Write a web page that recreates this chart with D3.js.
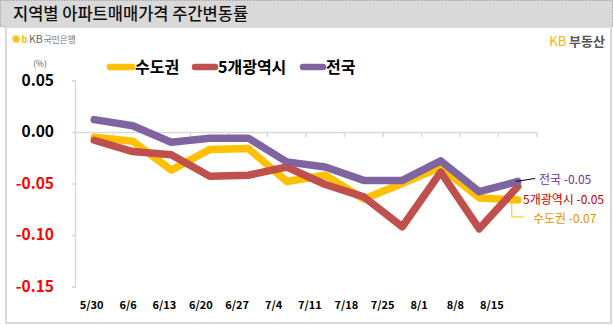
<!DOCTYPE html>
<html>
<head>
<meta charset="utf-8">
<script src="https://d3js.org/d3.v7.min.js"></script>
<style>
  html, body { margin: 0; padding: 0; background: #fff; }
  svg { display: block; }
  text { font-family: "Noto Sans CJK KR", "Noto Sans", sans-serif; }
</style>
</head>
<body>
<svg id="chart" width="613" height="325"></svg>
<script>
// Weekly apartment sale price change by region (%)
const weeks = ["5/30", "6/6", "6/13", "6/20", "6/27", "7/4", "7/11", "7/18", "7/25", "8/1", "8/8", "8/15"];
const capitalArea = [-0.005, -0.009, -0.037, -0.017, -0.016, -0.048, -0.042, -0.065, -0.050, -0.034, -0.064, -0.066];
const metroCities = [-0.008, -0.019, -0.022, -0.043, -0.042, -0.034, -0.051, -0.063, -0.092, -0.039, -0.094, -0.053];
const nationwide  = [0.012, 0.006, -0.010, -0.006, -0.006, -0.029, -0.034, -0.047, -0.047, -0.028, -0.058, -0.048];
const yTicks = [0.05, 0.00, -0.05, -0.10, -0.15];

const series = [
  { name: "수도권",   values: capitalArea, color: "#FFC000", labelColor: "#E69500", labelValue: -0.07 },
  { name: "5개광역시", values: metroCities, color: "#C0504D", labelColor: "#C00000", labelValue: -0.05 },
  { name: "전국",     values: nationwide,  color: "#8064A2", labelColor: "#7030A0", labelValue: -0.05 }
];

// two decimals with a plain hyphen for negatives
const fmt = v => d3.format(".2f")(v).replace("\u2212", "-");

const svg = d3.select("#chart");

// Title bar
svg.append("rect").attr("x", 0.5).attr("y", 0.5).attr("width", 612).attr("height", 26)
  .attr("fill", "#d9d9d9").attr("stroke", "#a6a6a6").attr("stroke-dasharray", "2,1");
svg.append("text").attr("x", 13).attr("y", 20).text("지역별 아파트매매가격 주간변동률")
  .attr("font-size", 16.5).attr("font-weight", 500).attr("fill", "#111");

// Chart frame
svg.append("rect").attr("x", 6).attr("y", 27).attr("width", 605).attr("height", 296)
  .attr("fill", "#fff").attr("stroke", "#d9d9d9").attr("stroke-width", 2);

// Bank logo (top left)
const logo = svg.append("g").attr("transform", "translate(12,39)");
logo.append("g").attr("stroke", "#FFB900").attr("stroke-width", 1.5).selectAll("line")
  .data([[-4, 0, 4, 0], [0, -4, 0, 4], [-3, -3, 3, 3], [-3, 3, 3, -3]]).join("line")
  .attr("x1", d => d[0] + 4).attr("y1", d => d[1]).attr("x2", d => d[2] + 4).attr("y2", d => d[3]);
logo.append("text").attr("x", 9.5).attr("y", 4).text("b").attr("font-size", 9).attr("fill", "#FFB900").attr("font-weight", 700);
logo.append("text").attr("x", 17).attr("y", 4).text("KB").attr("font-size", 10.5).attr("fill", "#666");
logo.append("text").attr("x", 31.5).attr("y", 3.5).text("국민은행").attr("font-size", 9).attr("fill", "#777").attr("letter-spacing", -0.3);

// Real-estate brand (top right)
const brand = svg.append("text").attr("x", 605).attr("y", 46).attr("text-anchor", "end").attr("font-size", 13).attr("font-weight", 700);
brand.append("tspan").text("KB ").attr("fill", "#FFB000").attr("font-weight", 400);
brand.append("tspan").text("부동산").attr("fill", "#555");

// Scales
const x = d3.scaleBand().domain(weeks).range([75, 537]);
const xLabel = d3.scaleBand().domain(weeks).range([73.5, 510]);
const y = d3.scaleLinear().domain([-0.15, 0.05]).range([286.5, 80.5]);

// Y axis
const yAxis = svg.append("g").attr("transform", "translate(75,0)")
  .call(d3.axisLeft(y).tickValues(yTicks).tickSize(3).tickFormat(fmt));
yAxis.select(".domain").attr("stroke", "#d9d9d9").attr("stroke-width", 1.5);
yAxis.selectAll(".tick line").attr("stroke", "#d9d9d9").attr("stroke-width", 1.5);
yAxis.selectAll(".tick text")
  .attr("x", -21).attr("font-size", 15.5).attr("font-weight", 700)
  .attr("font-family", "'Liberation Sans', Arial, sans-serif")
  .attr("fill", d => d < 0 ? "#FF0000" : "#000");
svg.append("text").attr("x", 40).attr("y", 67).attr("text-anchor", "middle")
  .text("(%)").attr("font-size", 8.5).attr("fill", "#4a5a7a");

// Zero baseline with category ticks
const zeroAxis = svg.append("g").attr("transform", `translate(0,${y(0)})`)
  .call(d3.axisBottom(x).tickSize(0).tickFormat(""));
zeroAxis.select(".domain").attr("stroke", "#d9d9d9").attr("stroke-width", 1.5);
zeroAxis.selectAll(".tick").remove();
zeroAxis.selectAll("line.cat").data(weeks.slice(1).concat(["end"])).join("line")
  .attr("class", "cat")
  .attr("x1", (d, i) => i < weeks.length - 1 ? x(d) : x.range()[1])
  .attr("x2", (d, i) => i < weeks.length - 1 ? x(d) : x.range()[1])
  .attr("y1", 0).attr("y2", 5).attr("stroke", "#d9d9d9").attr("stroke-width", 1.5);

// X labels
svg.append("g").selectAll("text").data(weeks).join("text")
  .attr("x", d => xLabel(d) + xLabel.bandwidth() / 2).attr("y", 309)
  .attr("text-anchor", "middle").text(d => d)
  .attr("font-size", 11).attr("font-weight", 700).attr("fill", "#000")
  .attr("font-family", "'Noto Sans', sans-serif");

// Lines
const line = d3.line()
  .x((d, i) => x(weeks[i]) + x.bandwidth() / 2)
  .y(d => y(d));
svg.append("g").selectAll("path").data(series).join("path")
  .attr("d", d => line(d.values))
  .attr("fill", "none").attr("stroke", d => d.color)
  .attr("stroke-width", 7.5).attr("stroke-linejoin", "round").attr("stroke-linecap", "round");

// Legend
const legendItems = [
  { s: series[0], x: 107, tx: 135 },
  { s: series[1], x: 192, tx: 218 },
  { s: series[2], x: 300, tx: 326 }
];
const legend = svg.append("g");
legend.selectAll("line").data(legendItems).join("line")
  .attr("x1", d => d.x + 3).attr("x2", d => d.tx - 3).attr("y1", 67).attr("y2", 67)
  .attr("stroke", d => d.s.color).attr("stroke-width", 6.5).attr("stroke-linecap", "round");
legend.selectAll("text").data(legendItems).join("text")
  .attr("x", d => d.tx).attr("y", 73).text(d => d.s.name)
  .attr("font-size", 16).attr("font-weight", 700).attr("fill", "#000");

// End-of-line value labels
const lastWeek = weeks[weeks.length - 1];
const lastX = x(lastWeek) + x.bandwidth() / 2;
const endLabels = [
  { s: series[2], x: 539, y: 184 },
  { s: series[1], x: 523, y: 203.5 },
  { s: series[0], x: 533, y: 222.5 }
];
svg.append("g").selectAll("text").data(endLabels).join("text")
  .attr("x", d => d.x).attr("y", d => d.y)
  .text(d => `${d.s.name} ${fmt(d.s.labelValue)}`)
  .attr("font-size", 12).attr("fill", d => d.s.labelColor);

// Leader lines
const natEnd = y(nationwide[nationwide.length - 1]);
svg.append("line").attr("x1", lastX - 2).attr("y1", natEnd).attr("x2", 535).attr("y2", natEnd - 3)
  .attr("stroke", "#000").attr("stroke-width", 1);
const capEnd = y(capitalArea[capitalArea.length - 1]);
svg.append("path")
  .attr("d", `M${lastX - 6},${capEnd} L${lastX - 6},${capEnd + 17} L${lastX + 6},${capEnd + 17}`)
  .attr("fill", "none").attr("stroke", "#FFC000").attr("stroke-width", 1);
</script>
</body>
</html>
